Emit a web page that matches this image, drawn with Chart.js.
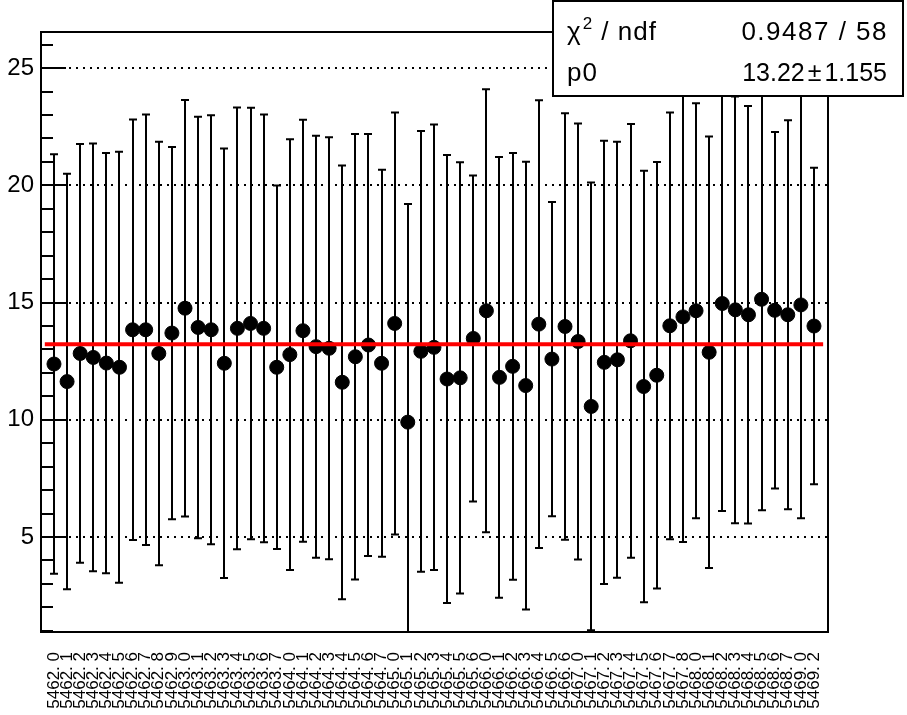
<!DOCTYPE html>
<html><head><meta charset="utf-8">
<script src="https://cdn.jsdelivr.net/npm/chart.js@4/dist/chart.umd.min.js"></script>
<style>html,body{margin:0;padding:0;background:#fff;}#wrap{width:907px;height:715px;position:relative;}</style>
</head><body><div id="wrap"><canvas id="c" width="907" height="715"></canvas></div>
<script>
const runLabels = [
 "5462. 0","5462. 1","5462. 2","5462. 3","5462. 4","5462. 5","5462. 6","5462. 7","5462. 8","5462. 9",
 "5463. 0","5463. 1","5463. 2","5463. 3","5463. 4","5463. 5","5463. 6","5463. 7",
 "5464. 0","5464. 1","5464. 2","5464. 3","5464. 4","5464. 5","5464. 6","5464. 7",
 "5465. 0","5465. 1","5465. 2","5465. 3","5465. 4","5465. 5","5465. 6",
 "5466. 0","5466. 1","5466. 2","5466. 3","5466. 4","5466. 5","5466. 6",
 "5467. 0","5467. 1","5467. 2","5467. 3","5467. 4","5467. 5","5467. 6","5467. 7","5467. 8",
 "5468. 0","5468. 1","5468. 2","5468. 3","5468. 4","5468. 5","5468. 6","5468. 7",
 "5469. 0","5469. 2"
];
const values = [
 12.38,11.63,12.83,12.66,12.42,12.24,13.84,13.84,12.83,13.70,
 14.76,13.94,13.84,12.41,13.90,14.11,13.90,12.24,12.78,13.80,
 13.12,13.05,11.60,12.69,13.19,12.41,14.11,9.90,12.92,13.09,
 11.74,11.79,13.47,14.65,11.81,12.28,11.46,14.08,12.59,13.98,
 13.34,10.57,12.45,12.56,13.37,11.42,11.90,14.01,14.39,14.65,
 12.88,14.96,14.69,14.48,15.14,14.67,14.48,14.90,14.00
];
const errors = [
 8.95,8.86,8.93,9.12,8.96,9.19,8.97,9.18,9.03,7.94,
 8.88,8.99,9.15,9.16,9.42,9.20,9.12,7.75,9.19,9.00,
 9.00,9.00,9.25,9.50,9.00,8.25,9.00,9.30,9.40,9.50,
 9.55,9.20,6.95,9.45,9.40,9.10,9.55,9.55,6.70,9.10,
 9.30,9.55,9.45,9.30,9.25,9.20,9.10,9.10,9.60,8.85,
 9.20,8.85,9.10,8.90,9.00,7.60,8.30,9.10,6.75
];
const fitP0 = 13.22;
const fitP0Err = 1.155;
const fitRange = [-0.7, 58.7];
const chi2 = 0.9487;
const ndf = 58;
const yTickValues = [5, 10, 15, 20, 25];

const FONT = "'Liberation Sans', Arial, Helvetica, sans-serif";

const pointData = values.map((v, i) => ({x: i, y: v}));
const fitData = fitRange.map(x => ({x: x, y: fitP0}));

const rootPlugin = {
  id: 'rootStyle',
  beforeDatasetsDraw(chart) {
    const ctx = chart.ctx, a = chart.chartArea;
    const xs = chart.scales.x, ys = chart.scales.y;
    ctx.save();
    ctx.strokeStyle = '#000';
    ctx.lineWidth = 2;
    ctx.setLineDash([2, 5]);
    yTickValues.forEach(t => {
      const y = Math.round(ys.getPixelForValue(t));
      ctx.beginPath(); ctx.moveTo(a.left, y); ctx.lineTo(a.right, y); ctx.stroke();
    });
    ctx.setLineDash([]);
    ctx.beginPath();
    ctx.rect(a.left, a.top, a.right - a.left, a.bottom - a.top);
    ctx.clip();
    ctx.lineWidth = 2;
    values.forEach((v, i) => {
      const x = Math.round(xs.getPixelForValue(i));
      const yt = ys.getPixelForValue(v + errors[i]);
      const yb = ys.getPixelForValue(v - errors[i]);
      ctx.beginPath(); ctx.moveTo(x, yt); ctx.lineTo(x, yb); ctx.stroke();
      ctx.beginPath();
      ctx.moveTo(x - 4, yt); ctx.lineTo(x + 4, yt);
      ctx.moveTo(x - 4, yb); ctx.lineTo(x + 4, yb);
      ctx.stroke();
    });
    ctx.restore();
  },
  afterDatasetsDraw(chart) {
    const ctx = chart.ctx, a = chart.chartArea;
    const ys = chart.scales.y;
    ctx.save();
    ctx.strokeStyle = '#000';
    ctx.lineWidth = 2;
    for (let v = Math.ceil(ys.min); v <= ys.max; v++) {
      const y = Math.round(ys.getPixelForValue(v));
      const len = (v % 5 === 0) ? 25 : 12;
      ctx.beginPath(); ctx.moveTo(a.left, y); ctx.lineTo(a.left + len, y); ctx.stroke();
    }
    ctx.strokeRect(a.left, a.top, a.right - a.left, a.bottom - a.top);
    ctx.restore();
  },
  afterDraw(chart) {
    const ctx = chart.ctx;
    ctx.save();
    const bx = 553, by = 1, bw = 350, bh = 95;
    ctx.fillStyle = '#fff';
    ctx.fillRect(bx, by, bw, bh);
    ctx.strokeStyle = '#000';
    ctx.lineWidth = 2;
    ctx.strokeRect(bx, by, bw, bh);
    ctx.fillStyle = '#000';
    ctx.textBaseline = 'alphabetic';
    const row1 = 40, row2 = 81;
    ctx.textAlign = 'left';
    ctx.letterSpacing = '1px';
    ctx.font = '26px ' + FONT;
    ctx.fillText('\u03C7', 567, row1);
    const wchi = ctx.measureText('\u03C7').width;
    ctx.font = '17px ' + FONT;
    ctx.fillText('2', 567 + wchi + 1, row1 - 11);
    const w2 = ctx.measureText('2').width;
    ctx.font = '26px ' + FONT;
    ctx.fillText(' / ndf', 567 + wchi + 1 + w2, row1);
    ctx.fillText('p0', 567, row2);
    ctx.textAlign = 'right';
    ctx.letterSpacing = '1.5px';
    ctx.fillText(chi2.toFixed(4) + ' / ' + ndf, 888, row1);
    ctx.letterSpacing = '0px';
    ctx.font = '25px ' + FONT;
    const errTxt = fitP0Err.toFixed(3);
    ctx.fillText(errTxt, 887, row2);
    let xr = 887 - ctx.measureText(errTxt).width - 3;
    ctx.fillText('\u00B1', xr, row2);
    xr -= ctx.measureText('\u00B1').width + 3;
    ctx.fillText(fitP0.toFixed(2), xr, row2);
    ctx.restore();
  }
};

new Chart(document.getElementById('c'), {
  type: 'scatter',
  data: {
    datasets: [
      {
        type: 'line',
        data: fitData,
        borderColor: '#ff0000',
        borderWidth: 4,
        pointRadius: 0,
        fill: false,
        order: 0
      },
      {
        data: pointData,
        backgroundColor: '#000',
        borderColor: '#000',
        borderWidth: 1,
        pointRadius: 7,
        pointHoverRadius: 7,
        order: 1
      }
    ]
  },
  options: {
    responsive: false,
    animation: false,
    events: [],
    layout: {padding: {top: 32, right: 79, left: 0, bottom: 0}},
    plugins: {legend: {display: false}, tooltip: {enabled: false}, title: {display: false}},
    scales: {
      x: {
        type: 'linear',
        min: -0.99,
        max: 59.07,
        afterBuildTicks(scale) { scale.ticks = values.map((_, i) => ({value: i})); },
        afterFit(scale) { scale.height = 83; },
        grid: {display: false, drawTicks: false},
        border: {display: false},
        ticks: {
          autoSkip: false,
          maxRotation: 90,
          minRotation: 90,
          padding: 20,
          color: '#000',
          font: {family: FONT, size: 17},
          callback: (v) => runLabels[v]
        }
      },
      y: {
        min: 0.95,
        max: 26.54,
        afterBuildTicks(scale) { scale.ticks = yTickValues.map(v => ({value: v})); },
        afterFit(scale) { scale.width = 41; },
        grid: {display: false, drawTicks: false},
        border: {display: false},
        ticks: {
          padding: 7,
          color: '#000',
          font: {family: FONT, size: 24}
        }
      }
    }
  },
  plugins: [rootPlugin]
});
</script>
</body></html>
